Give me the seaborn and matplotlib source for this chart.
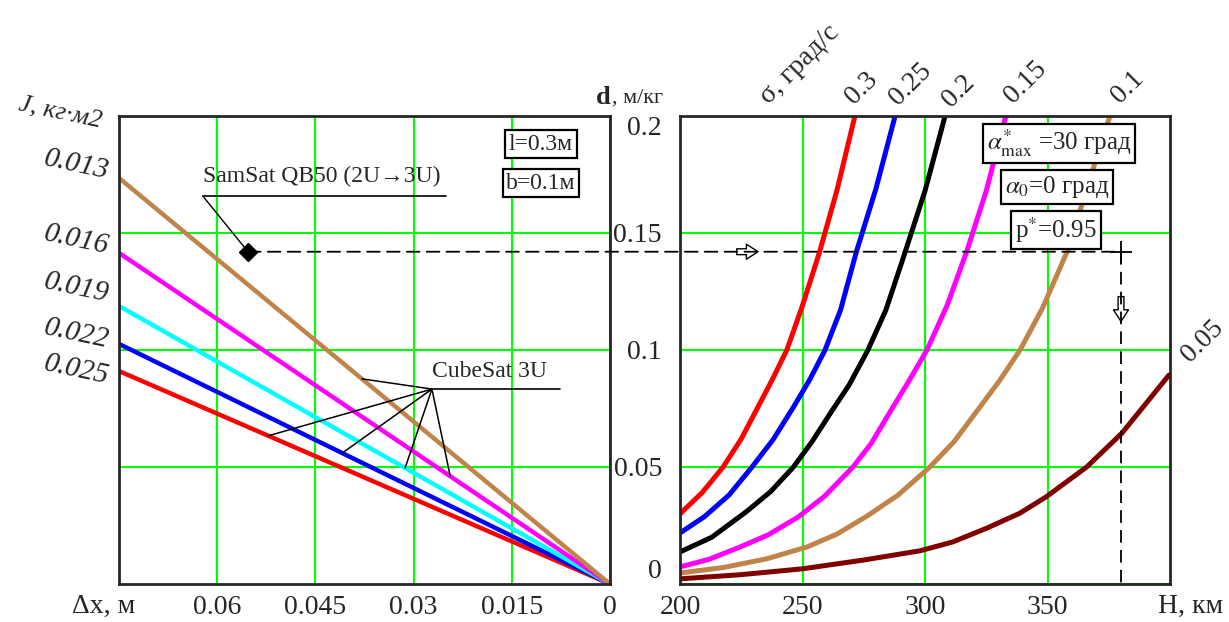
import matplotlib
matplotlib.use("Agg")
import matplotlib.pyplot as plt
import matplotlib.transforms as mtransforms
import numpy as np
import pandas as pd
import seaborn as sns
from matplotlib.patches import ConnectionPatch

W, H = 1229, 622

# ---- left panel: d(dx) lines for several J values ----
j_labels = ["0.013", "0.016", "0.019", "0.022", "0.025"]
j_colors = ["#c0844a", "#ff00ff", "#00ffff", "#0000ff", "#ff0000"]
dx_ends = [0.0, 0.075]
d_at_edge = [0.1735, 0.1415, 0.1188, 0.1026, 0.0910]
j_label_d = [0.176, 0.144, 0.1235, 0.104, 0.0885]
dx_ticks = [0.06, 0.045, 0.03, 0.015, 0]
dx_ticklabels = ["0.06", "0.045", "0.03", "0.015", "0"]

samsat_dx = 0.0553
samsat_d = 0.142
samsat_h = 380
cubesat_hub = (0.0272, 0.0833)
cubesat_dx = [0.0379, 0.0244, 0.0313, 0.0409, 0.0522]

# ---- right panel: d(H) curves for several sigma values ----
sigma_labels = ["0.3", "0.25", "0.2", "0.15", "0.1", "0.05"]
sigma_colors = ["#ff0000", "#0000ff", "#000000", "#ff00ff", "#c0844a", "#800000"]
h_03 = [200, 209, 217.6, 225, 231.8, 237.5, 243.6, 250, 257, 264, 271.4]
d_03 = [0.030, 0.039, 0.050, 0.062, 0.0756, 0.087, 0.100, 0.119, 0.142, 0.168, 0.200]
h_025 = [200, 210, 220, 229.4, 238, 246.3, 253, 259.2, 265.5, 272, 280, 287.8]
d_025 = [0.0218, 0.0288, 0.038, 0.050, 0.0617, 0.0756, 0.0874, 0.100, 0.117, 0.142, 0.169, 0.200]
h_02 = [200, 213, 227.2, 237, 246.3, 254, 262, 269, 276.7, 284, 291, 300, 308.2]
d_02 = [0.0137, 0.020, 0.031, 0.0395, 0.050, 0.061, 0.074, 0.085, 0.100, 0.117, 0.139, 0.168, 0.200]
h_015 = [200, 212, 224.5, 236, 248.2, 259, 270.6, 278, 285.7, 293, 300.8, 309, 317, 325, 333]
d_015 = [0.0073, 0.0106, 0.0158, 0.021, 0.0286, 0.0375, 0.050, 0.060, 0.0735, 0.086,
         0.100, 0.119, 0.142, 0.168, 0.200]
h_01 = [200, 218, 235.5, 251.8, 264, 276.3, 289, 302, 312, 322.4, 330.5, 338.8, 348,
        358, 369.4, 375.5]
d_01 = [0.0047, 0.0071, 0.0108, 0.0158, 0.0213, 0.029, 0.038, 0.050, 0.061, 0.0756,
        0.087, 0.100, 0.118, 0.142, 0.180, 0.200]
h_005 = [200, 225, 250, 274.7, 298, 311.4, 325.3, 338.8, 349.4, 366, 380.4, 399.6]
d_005 = [0.0022, 0.004, 0.0065, 0.0102, 0.0142, 0.018, 0.0239, 0.0303, 0.0372, 0.050,
         0.0645, 0.0893]
h_ticks = [200, 250, 300, 350]
d_ticks = [0, 0.05, 0.1, 0.15, 0.2]
d_ticklabels = ["0", "0.05", "0.1", "0.15", "0.2"]

sns.set_theme(style="white")
plt.rcParams["font.family"] = ["Liberation Serif", "DejaVu Serif"]
plt.rcParams["mathtext.fontset"] = "stix"

GRID = "#00ff00"
FRAME = "#262626"


def fx(x, y):
    return x / W, 1 - y / H


left_df = pd.concat(
    [pd.DataFrame({"dx": dx_ends, "d": [0.0, d], "J": lab})
     for lab, d in zip(j_labels, d_at_edge)],
    ignore_index=True,
)
curves = [(h_03, d_03), (h_025, d_025), (h_02, d_02),
          (h_015, d_015), (h_01, d_01), (h_005, d_005)]
right_df = pd.concat(
    [pd.DataFrame({"H": h, "d": d, "sigma": lab})
     for lab, (h, d) in zip(sigma_labels, curves)],
    ignore_index=True,
)

fig = plt.figure(figsize=(W / 100, H / 100), dpi=100)
ax_l = fig.add_axes([119 / W, 38 / H, 491 / W, 468 / H])
ax_r = fig.add_axes([680 / W, 38 / H, 490 / W, 468 / H])

for ax in (ax_l, ax_r):
    ax.set_axisbelow(True)
    ax.grid(True, color=GRID, lw=1.5)
    for sp in ax.spines.values():
        sp.set_color(FRAME)
        sp.set_linewidth(2)

# left panel
sns.lineplot(data=left_df, x="dx", y="d", hue="J",
             palette=dict(zip(j_labels, j_colors)), hue_order=j_labels[::-1],
             estimator=None, sort=False, lw=3.2, legend=False, ax=ax_l)
ax_l.set_xlim(0.075, 0)
ax_l.set_ylim(0, 0.2)
ax_l.set_xticks(dx_ticks)
ax_l.set_xticklabels(dx_ticklabels)
ax_l.set_yticks([0.05, 0.1, 0.15])
ax_l.set_yticklabels([])
ax_l.tick_params(length=0, labelsize=20, pad=8)
ax_l.set_xlabel("")
ax_l.set_ylabel("")

blend = mtransforms.blended_transform_factory(ax_l.transAxes, ax_l.transData)
for lab, yd in zip(j_labels, j_label_d):
    ax_l.text(-0.022, yd, lab, transform=blend, ha="right", va="center",
              fontsize=21, style="italic", rotation=-12,
              rotation_mode="anchor", clip_on=False)

# SamSat point and its label
ax_l.plot(samsat_dx, samsat_d, marker="D", ms=9, color="black", zorder=5)
ss_x0, ss_x1, ss_y = 0.0622, 0.0251, 0.1658
ax_l.plot([ss_x0, ss_x1], [ss_y, ss_y], color="black", lw=1.2, zorder=5)
ax_l.plot([ss_x0, samsat_dx], [ss_y, samsat_d], color="black", lw=1.0, zorder=5)
ax_l.text(ss_x0, ss_y + 0.004, "SamSat QB50 (2U\u21923U)", ha="left",
          va="bottom", fontsize=17)

# CubeSat 3U leaders
hx, hy = cubesat_hub
for tx, d_edge in zip(cubesat_dx, d_at_edge):
    ty = np.interp(tx, dx_ends, [0.0, d_edge])
    ax_l.plot([hx, tx], [hy, ty], color="black", lw=1.1, zorder=5)
ax_l.plot([hx, 0.0076], [hy, hy], color="black", lw=1.2, zorder=5)
ax_l.text(hx, hy + 0.003, "CubeSat 3U", ha="left", va="bottom", fontsize=17)

# right panel
sns.lineplot(data=right_df, x="H", y="d", hue="sigma",
             palette=dict(zip(sigma_labels, sigma_colors)),
             estimator=None, sort=False, lw=3.6, legend=False, ax=ax_r)
ax_r.set_xlim(200, 400)
ax_r.set_ylim(0, 0.2)
ax_r.set_xticks(h_ticks)
ax_r.set_yticks(d_ticks)
ax_r.set_yticklabels(d_ticklabels)
ax_r.tick_params(length=0, labelsize=20, pad=8)
ax_r.tick_params(axis="y", pad=13)
ax_r.set_xlabel("")
ax_r.set_ylabel("")
ylabels = ax_r.get_yticklabels()
ylabels[0].set_verticalalignment("bottom")
ylabels[-1].set_verticalalignment("top")

sigma_pos = [(0.371, 1.06), (0.471, 1.068), (0.569, 1.053),
             (0.706, 1.073), (0.914, 1.062), (1.067, 0.519)]
for lab, (px, py) in zip(sigma_labels, sigma_pos):
    ax_r.text(px, py, lab, transform=ax_r.transAxes, rotation=45,
              ha="center", va="center", fontsize=20, clip_on=False)
ax_r.text(0.245, 1.109, "\u03c3, град/с", transform=ax_r.transAxes,
          rotation=45, ha="center", va="center", fontsize=20, clip_on=False)

# dashed reading path
dash = (0, (7, 4))
con = ConnectionPatch(xyA=(samsat_dx, samsat_d), coordsA=ax_l.transData,
                      xyB=(samsat_h, samsat_d), coordsB=ax_r.transData,
                      color="black", lw=1.3, linestyle=dash, zorder=4)
fig.add_artist(con)
ax_r.plot([samsat_h, samsat_h], [samsat_d, 0], color="black", lw=1.3,
          linestyle=dash, clip_on=False, zorder=4)
ax_r.plot(samsat_h, samsat_d, marker="+", ms=16, mew=1.3, color="black",
          zorder=5)
arrow = dict(arrowstyle="simple,head_length=0.7,head_width=0.9,tail_width=0.35",
             fc="white", ec="black", lw=1.0, mutation_scale=12)
ax_r.annotate("", xy=(233, samsat_d), xytext=(222, samsat_d), arrowprops=arrow)
ax_r.annotate("", xy=(samsat_h, 0.111), xytext=(samsat_h, 0.124),
              arrowprops=arrow)

# free texts
box = dict(boxstyle="square,pad=0.15", fc="white", ec="black", lw=1.6)
fig.text(*fx(541, 144), "l=0.3м", ha="center", va="center", fontsize=17, bbox=box)
fig.text(*fx(541, 183), "b=0.1м", ha="center", va="center", fontsize=17, bbox=box)
fig.text(*fx(1059, 143), r"$\alpha^{*}_{\rm max}$ =30 град", ha="center",
         va="center", fontsize=18, bbox=box)
fig.text(*fx(1057, 187), r"$\alpha_{0}$=0 град", ha="center", va="center",
         fontsize=18, bbox=box)
fig.text(*fx(1056, 230), r"p$^{*}$=0.95", ha="center", va="center",
         fontsize=18, bbox=box)

fig.text(*fx(60, 112), "J, кг·м2", ha="center", va="center", fontsize=19,
         style="italic", rotation=-12)
fig.text(*fx(603, 97), "d", ha="center", va="center", fontsize=19,
         fontweight="bold")
fig.text(*fx(612, 98), ", м/кг", ha="left", va="center", fontsize=16)
fig.text(*fx(104, 606), "\u0394x, м", ha="center", va="center", fontsize=20)
fig.text(*fx(1191, 606), "H, км", ha="center", va="center", fontsize=20)

fig.savefig("out.png", dpi=100)
